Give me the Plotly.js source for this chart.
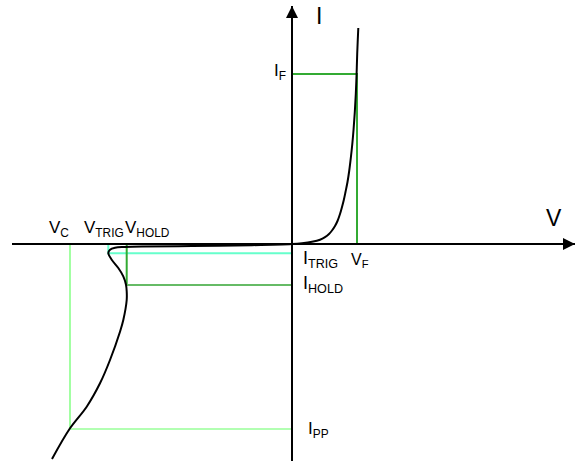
<!DOCTYPE html>
<html>
<head>
<meta charset="utf-8">
<script src="https://cdn.plot.ly/plotly-3.0.1.min.js"></script>
<style>html,body{margin:0;padding:0;background:#fff;}#chart{width:581px;height:461px;}</style>
</head>
<body>
<div id="chart"></div>
<script>
// I-V characteristic (arbitrary units, origin at the axes crossing)
var curveV = [-240, -222, -205.3, -192, -182, -172, -168.7, -165.3, -165.3, -166, -168.7, -173.7, -180.3, -183.7, -182, -177, -167, -150, -100, -40, 0,
              10, 20, 28, 33, 37, 40, 43, 45.5, 48, 50, 51.8, 53.5, 55.5, 57.2, 58.8, 60.3, 61.6, 62.8, 63.8, 64.6, 65.2, 65.8, 66.3];
var curveI = [-215, -184.3, -162.7, -139.3, -116, -87.7, -76, -56, -47.3, -40.7, -32.3, -24, -15.7, -9, -5.7, -3.7, -3, -2.5, -2, -1.2, 0,
              0.8, 2.2, 4.2, 6.8, 10, 13.5, 18, 23, 30, 37, 44, 52, 62, 73, 86, 100, 115, 132, 150, 170, 190, 205, 216];

// characteristic points
var V_F = 65, I_F = 170;
var V_TRIG = -183.7, I_TRIG = -9.3;
var V_HOLD = -165.3, I_HOLD = -41;
var V_C = -222, I_PP = -185;

// axis extents
var axisV = [-280, 283];
var axisI = [-217, 238];

// labels
var labelTexts = ['V<sub>C</sub>', 'V<sub>TRIG</sub>', 'V<sub>HOLD</sub>', 'I<sub>TRIG</sub>', 'V<sub>F</sub>',
                  'I<sub>HOLD</sub>', 'I<sub>F</sub>', 'I<sub>PP</sub>', 'V', 'I'];
var labelX = [-245, -210, -169, 8.5, 56.7, 8.5, -20.5, 13.5, 252, 22];
var labelY = [28.5, 28.5, 28.5, -1.5, -5, -27, 185, -173, 41, 243.3];
var labelSize = [17, 17, 17, 18, 16, 18, 17, 17, 23, 23];

var font = 'Liberation Sans, Arial, Helvetica, sans-serif';

function seg(xs, ys, color, width) {
  return {x: xs, y: ys, type: 'scatter', mode: 'lines', hoverinfo: 'skip',
          line: {color: color, width: width}, showlegend: false};
}

var traces = [
  // reference lines
  seg([V_C, V_C, 0], [0, I_PP, I_PP], '#66ff66', 1.2),
  seg([V_TRIG, V_TRIG, 0], [0, I_TRIG, I_TRIG], '#66ffcc', 2),
  seg([V_HOLD, V_HOLD], [0, I_HOLD], '#33aa33', 2),
  seg([V_HOLD, 0], [I_HOLD, I_HOLD], '#66bb66', 2),
  seg([0, V_F, V_F], [I_F, I_F, 0], '#33aa33', 2),
  // axes
  seg(axisV, [0, 0], '#000000', 2),
  seg([0, 0], axisI, '#000000', 2),
  // curve
  {x: curveV, y: curveI, type: 'scatter', mode: 'lines', hoverinfo: 'skip', showlegend: false,
   line: {color: '#000000', width: 2, shape: 'spline', smoothing: 1}},
  // arrow heads
  {x: [axisV[1], 0], y: [0, axisI[1]], type: 'scatter', mode: 'markers', hoverinfo: 'skip', showlegend: false,
   marker: {symbol: ['arrow-right', 'arrow-up'], size: 12, color: '#000000', line: {width: 0}}}
];

var annotations = labelTexts.map(function (t, i) {
  return {text: t, x: labelX[i], y: labelY[i], xref: 'x', yref: 'y',
          xanchor: 'left', yanchor: 'top', showarrow: false,
          font: {family: font, size: labelSize[i], color: '#000000'}};
});

var layout = {
  width: 581, height: 461,
  margin: {l: 0, r: 0, t: 0, b: 0, pad: 0},
  paper_bgcolor: '#ffffff', plot_bgcolor: '#ffffff',
  xaxis: {range: [-292, 289], visible: false, fixedrange: true},
  yaxis: {range: [-217, 244], visible: false, fixedrange: true},
  annotations: annotations,
  showlegend: false
};

Plotly.newPlot('chart', traces, layout, {displayModeBar: false, staticPlot: true});
</script>
</body>
</html>
